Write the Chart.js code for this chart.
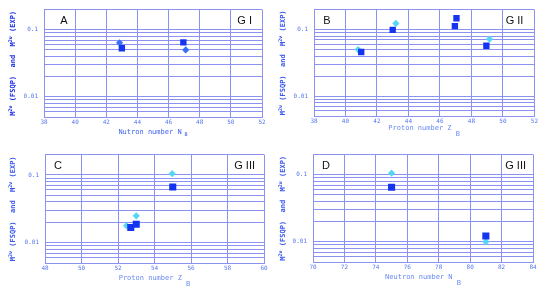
<!DOCTYPE html>
<html>
<head>
<meta charset="utf-8">
<script src="https://cdn.jsdelivr.net/npm/chart.js"></script>
<style>
  html, body { margin: 0; padding: 0; background: #fff; }
  #wrap { position: relative; width: 540px; height: 289px; overflow: hidden; }
  canvas { position: absolute; }
</style>
</head>
<body>
<div id="wrap">
  <canvas id="cA" width="270" height="145" style="left:0;top:0"></canvas>
  <canvas id="cB" width="270" height="145" style="left:270px;top:0"></canvas>
  <canvas id="cC" width="270" height="144" style="left:0;top:145px"></canvas>
  <canvas id="cD" width="270" height="144" style="left:270px;top:145px"></canvas>
</div>
<script>
  // valores (cuadrados = oscuros, rombos = claros)
  const xA_sq = [43.0, 46.95],  yA_sq = [0.053, 0.065];
  const xA_di = [42.85, 47.1],  yA_di = [0.064, 0.050];

  const xB_sq = [41.0, 43.0, 46.95, 47.05, 48.95], yB_sq = [0.046, 0.099, 0.113, 0.148, 0.057];
  const xB_di = [40.8, 43.2, 49.15],               yB_di = [0.050, 0.124, 0.072];

  const xC_sq = [52.7, 53.0, 55.0],   yC_sq = [0.0167, 0.0187, 0.0663];
  const xC_di = [52.47, 53.0, 54.97], yC_di = [0.0178, 0.0249, 0.1045];

  const xD_sq = [75.0, 81.0], yD_sq = [0.065, 0.0122];
  const xD_di = [75.0, 81.0], yD_di = [0.1057, 0.0100];

  const xRanges   = [[38, 52], [38, 52], [48, 60], [70, 84]];
  const letters   = ['A', 'B', 'C', 'D'];
  const groups    = ['G I', 'G II', 'G III', 'G III'];
  const xTitles   = ['Nutron number N', 'Proton number Z', 'Proton number Z', 'Neutron number N'];
  const xSubs     = ['B', 'B', 'B', 'B'];
  const yLabelled = [0.1, 0.01];
  const yGrid     = [0.005, 0.006, 0.007, 0.008, 0.009, 0.01, 0.02, 0.03, 0.04, 0.05,
                     0.06, 0.07, 0.08, 0.09, 0.1, 0.2];

  const GRID = '#8c92f2';
  const MONO = '"DejaVu Sans Mono", monospace';

  // layout de cada panel (px dentro de su canvas)
  const panels = [
    { id: 'cA', yW: 44, xH: 28, padT: 7, padR: 8, let: 20, grpR: 10, ttlDy: 15, subDy: 3, subSize: 5,
      sq: [xA_sq, yA_sq], di: [xA_di, yA_di], diColor: '#3a6ef8', yCol: '#1c30e6', xCol: '#3f62ef' },
    { id: 'cB', yW: 44, xH: 29, padT: 5, padR: 5, let: 13, grpR: 11, ttlDy: 12, subDy: 6, subSize: 7,
      sq: [xB_sq, yB_sq], di: [xB_di, yB_di], diColor: '#55d6f8', yCol: '#3a58ee', xCol: '#6a8af4' },
    { id: 'cC', yW: 45, xH: 26, padT: 7, padR: 6, let: 13, grpR: 9, ttlDy: 15, subDy: 6, subSize: 7,
      sq: [xC_sq, yC_sq], di: [xC_di, yC_di], diColor: '#55d6f8', yCol: '#3a58ee', xCol: '#6a8af4' },
    { id: 'cD', yW: 43, xH: 27, padT: 6, padR: 7, let: 13, grpR: 7, ttlDy: 15, subDy: 6, subSize: 7,
      sq: [xD_sq, yD_sq], di: [xD_di, yD_di], diColor: '#55d6f8', yCol: '#3a58ee', xCol: '#6a8af4' }
  ];

  function drawRich(ctx, parts, x, y) {
    parts.forEach(p => {
      ctx.font = p.font;
      ctx.fillText(p.t, x, y + (p.dy || 0));
      x += ctx.measureText(p.t).width;
    });
  }
  function richWidth(ctx, parts) {
    return parts.reduce((w, p) => { ctx.font = p.font; return w + ctx.measureText(p.t).width; }, 0);
  }

  const textos = {
    id: 'textos',
    afterDraw(chart, args, o) {
      const ctx = chart.ctx, a = chart.chartArea;
      ctx.save();
      ctx.textBaseline = 'middle';

      // letra del panel y grupo
      ctx.fillStyle = '#111';
      ctx.font = '11px "Liberation Sans", Arial, sans-serif';
      ctx.textAlign = 'center';
      ctx.fillText(o.letter, a.left + o.p.let, a.top + 11);
      ctx.textAlign = 'right';
      ctx.fillText(o.group, a.right - o.p.grpR, a.top + 11);

      // titulo eje x con subindice
      ctx.textAlign = 'left';
      ctx.fillStyle = o.p.xCol;
      const xp = [
        { t: o.xTitle, font: '7px ' + MONO },
        { t: ' ' + o.xSub, font: o.p.subSize + 'px ' + MONO, dy: o.p.subDy }
      ];
      const xw = richWidth(ctx, xp);
      drawRich(ctx, xp, (a.left + a.right) / 2 - xw / 2, a.bottom + o.p.ttlDy);

      // titulo eje y con superindices
      const yp = [
        { t: 'M', font: 'bold 7px ' + MONO },
        { t: '2ν', font: 'bold 5px ' + MONO, dy: -2.5 },
        { t: ' (FSQP)  and  M', font: 'bold 7px ' + MONO },
        { t: '2ν', font: 'bold 5px ' + MONO, dy: -2.5 },
        { t: ' (EXP)', font: 'bold 7px ' + MONO }
      ];
      ctx.fillStyle = o.p.yCol;
      ctx.translate(13, (a.top + a.bottom) / 2);
      ctx.rotate(-Math.PI / 2);
      const yw = richWidth(ctx, yp);
      drawRich(ctx, yp, -yw / 2, 0);
      ctx.restore();
    }
  };

  const pts = (xs, ys) => xs.map((x, i) => ({ x, y: ys[i] }));

  panels.forEach((p, i) => {
    new Chart(document.getElementById(p.id), {
      type: 'scatter',
      data: {
        datasets: [
          { label: 'FSQP', data: pts(p.sq[0], p.sq[1]), pointStyle: 'rect',
            pointRadius: i >= 2 ? 5 : 4.5, backgroundColor: '#1434f0', borderWidth: 0 },
          { label: 'EXP', data: pts(p.di[0], p.di[1]), pointStyle: 'rectRot',
            pointRadius: 3.6, backgroundColor: p.diColor, borderWidth: 0 }
        ]
      },
      options: {
        responsive: false,
        animation: false,
        events: [],
        layout: { padding: { top: p.padT, right: p.padR, left: 0, bottom: 0 } },
        plugins: {
          legend: { display: false },
          tooltip: { enabled: false },
          textos: { letter: letters[i], group: groups[i], xTitle: xTitles[i], xSub: xSubs[i], p }
        },
        scales: {
          x: {
            type: 'linear',
            min: xRanges[i][0], max: xRanges[i][1],
            ticks: { stepSize: 2, color: '#5577ee', font: { family: MONO, size: 6 }, padding: 2, maxRotation: 0 },
            grid: { color: GRID, drawTicks: false },
            border: { color: GRID },
            afterFit(s) { s.height = p.xH; }
          },
          y: {
            type: 'logarithmic',
            min: 0.005, max: 0.2,
            afterBuildTicks(s) { s.ticks = yGrid.map(v => ({ value: v })); },
            ticks: {
              color: '#5577ee', font: { family: MONO, size: 6 }, padding: 6, autoSkip: false,
              callback: v => yLabelled.includes(v) ? String(v) : ''
            },
            grid: { color: GRID, drawTicks: false },
            border: { color: GRID },
            afterFit(s) { s.width = p.yW; }
          }
        }
      },
      plugins: [textos]
    });
  });
</script>
</body>
</html>
